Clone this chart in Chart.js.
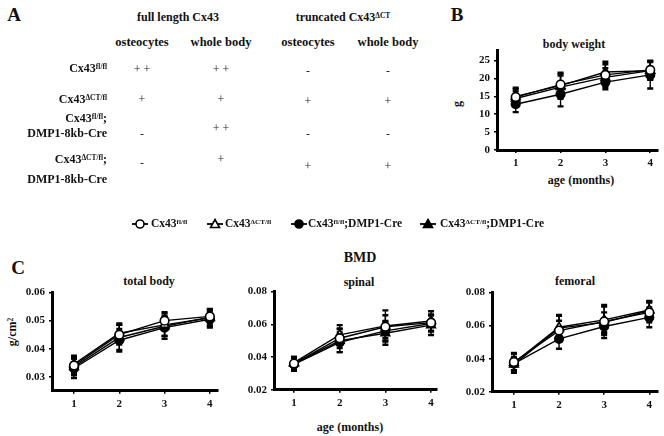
<!DOCTYPE html>
<html>
<head>
<meta charset="utf-8">
<script src="https://cdn.jsdelivr.net/npm/chart.js@4.4.1/dist/chart.umd.min.js"></script>
<style>
  html, body { margin:0; padding:0; background:#fff; }
  #root { position:relative; width:664px; height:436px; overflow:hidden; font-family:"Liberation Serif","Times New Roman",serif; font-weight:bold; color:#111; -webkit-font-smoothing:antialiased; }
  #tableA, #legend { position:absolute; left:0; top:0; width:664px; height:436px; filter:grayscale(100%); }
  .t { position:absolute; white-space:nowrap; transform:translate(-50%,-50%); line-height:1; }
  .r { position:absolute; white-space:nowrap; transform:translateY(-50%); text-align:right; line-height:1.15; }
  .l { position:absolute; white-space:nowrap; transform:translateY(-50%); line-height:1; }
  sup { font-size:0.62em; vertical-align:0.45em; line-height:0; }
  canvas { position:absolute; }
</style>
</head>
<body>
<div id="root">
  <div id="tableA"></div>
  <div id="legend"></div>

  <!-- Panel A headers -->
  <div class="t" style="left:14px;top:14px;font-size:19px;">A</div>
  <div class="t" style="left:178px;top:17px;font-size:12px;">full length Cx43</div>
  <div class="t" style="left:343px;top:17px;font-size:12px;">truncated Cx43<sup>ΔCT</sup></div>
  <div class="t" style="left:142px;top:42px;font-size:12.5px;">osteocytes</div>
  <div class="t" style="left:221px;top:42px;font-size:12.5px;">whole body</div>
  <div class="t" style="left:308px;top:42px;font-size:12.5px;">osteocytes</div>
  <div class="t" style="left:388px;top:42px;font-size:12.5px;">whole body</div>

  <div class="t" style="left:457px;top:14px;font-size:19px;">B</div>
  <div class="t" style="left:574px;top:44px;font-size:12px;">body weight</div>
  <div class="t" style="left:457px;top:104px;font-size:12px;transform:translate(-50%,-50%) rotate(-90deg);">g</div>
  <div class="t" style="left:581px;top:180px;font-size:12px;">age (months)</div>

  <div class="t" style="left:18px;top:267px;font-size:19px;">C</div>
  <div class="t" style="left:360px;top:258px;font-size:14px;">BMD</div>
  <div class="t" style="left:149px;top:281px;font-size:12px;">total body</div>
  <div class="t" style="left:359px;top:282px;font-size:12px;">spinal</div>
  <div class="t" style="left:575px;top:281px;font-size:12px;">femoral</div>
  <div class="t" style="left:12px;top:332px;font-size:12px;transform:translate(-50%,-50%) rotate(-90deg);">g/cm<sup>2</sup></div>
  <div class="t" style="left:350px;top:427px;font-size:12px;">age (months)</div>

  <canvas id="cB" width="209" height="135" style="left:455px;top:40px;"></canvas>
  <canvas id="cT" width="215" height="130" style="left:10px;top:282px;"></canvas>
  <canvas id="cS" width="212" height="131" style="left:232px;top:281px;"></canvas>
  <canvas id="cF" width="214" height="130" style="left:450px;top:282px;"></canvas>
</div>
<script>
// ---------------- DATA ----------------
const months = [1, 2, 3, 4];
const seriesNames = ['Cx43<sup>fl/fl</sup>', 'Cx43<sup>ΔCT/fl</sup>', 'Cx43<sup>fl/fl</sup>;DMP1-Cre', 'Cx43<sup>ΔCT/fl</sup>;DMP1-Cre'];

// Panel A table
const genotypeLabels = ['Cx43<sup>fl/fl</sup>', 'Cx43<sup>ΔCT/fl</sup>', 'Cx43<sup>fl/fl</sup>;<br>DMP1-8kb-Cre', 'Cx43<sup>ΔCT/fl</sup>;<br>DMP1-8kb-Cre'];
const fullOsteocytes = ['+ +', '+', '-', '-'];
const fullWholeBody = ['+ +', '+', '+ +', '+'];
const truncOsteocytes = ['-', '+', '-', '+'];
const truncWholeBody = ['-', '+', '-', '+'];

// Panel B: body weight (g)
const bwTicks = [0, 5, 10, 15, 20, 25];
const bw_flfl = [14.8, 18.3, 21.0, 22.4];
const bw_flfl_err = [2.2, 3.0, 3.0, 2.6];
const bw_dct = [14.4, 17.6, 20.3, 22.2];
const bw_dct_err = [2.0, 3.2, 2.6, 2.4];
const bw_flflCre = [12.8, 15.6, 19.0, 21.0];
const bw_flflCre_err = [2.2, 3.4, 2.0, 3.8];
const bw_dctCre = [15.0, 18.0, 21.8, 22.2];
const bw_dctCre_err = [2.4, 3.6, 2.9, 2.6];

// Panel C: total body BMD
const tbTicks = [0.03, 0.04, 0.05, 0.06];
const tb_flfl = [0.0340, 0.0450, 0.0500, 0.0515];
const tb_flfl_err = [0.0030, 0.0035, 0.0030, 0.0025];
const tb_dct = [0.0345, 0.0455, 0.0485, 0.0510];
const tb_dct_err = [0.0030, 0.0035, 0.0040, 0.0030];
const tb_flflCre = [0.0330, 0.0430, 0.0475, 0.0505];
const tb_flflCre_err = [0.0035, 0.0040, 0.0040, 0.0030];
const tb_dctCre = [0.0335, 0.0440, 0.0480, 0.0512];
const tb_dctCre_err = [0.0030, 0.0045, 0.0035, 0.0030];

// Panel C: spinal BMD
const spTicks = [0.02, 0.04, 0.06, 0.08];
const sp_flfl = [0.0360, 0.0515, 0.0585, 0.0610];
const sp_flfl_err = [0.0040, 0.0060, 0.0070, 0.0050];
const sp_dct = [0.0365, 0.0535, 0.0590, 0.0620];
const sp_dct_err = [0.0030, 0.0060, 0.0095, 0.0060];
const sp_flflCre = [0.0355, 0.0490, 0.0560, 0.0605];
const sp_flflCre_err = [0.0040, 0.0060, 0.0060, 0.0050];
const sp_dctCre = [0.0360, 0.0500, 0.0545, 0.0595];
const sp_dctCre_err = [0.0040, 0.0070, 0.0070, 0.0060];

// Panel C: femoral BMD
const feTicks = [0.02, 0.04, 0.06, 0.08];
const fe_flfl = [0.0380, 0.0570, 0.0625, 0.0680];
const fe_flfl_err = [0.0050, 0.0060, 0.0100, 0.0060];
const fe_dct = [0.0375, 0.0590, 0.0635, 0.0695];
const fe_dct_err = [0.0060, 0.0070, 0.0080, 0.0050];
const fe_flflCre = [0.0370, 0.0520, 0.0595, 0.0650];
const fe_flflCre_err = [0.0040, 0.0060, 0.0050, 0.0060];
const fe_dctCre = [0.0365, 0.0585, 0.0620, 0.0690];
const fe_dctCre_err = [0.0040, 0.0080, 0.0060, 0.0060];

// ---------------- STYLES ----------------
const markerStyles = [
  { pointStyle: 'circle', fill: '#fff' },
  { pointStyle: 'triangle', fill: '#fff' },
  { pointStyle: 'circle', fill: '#000' },
  { pointStyle: 'triangle', fill: '#000' }
];
const FONT = '"Liberation Serif", "Times New Roman", serif';

// ---------------- PANEL A TABLE ----------------
(function () {
  const host = document.getElementById('tableA');
  const labelY = [68, 99, 126, 169];
  const colX = [142, 221, 308, 388];
  const cols = [fullOsteocytes, fullWholeBody, truncOsteocytes, truncWholeBody];
  const valY = [
    [69, 69, 71, 71],
    [99, 99, 101, 101],
    [134, 128, 134, 134],
    [163, 159, 166, 166]
  ];
  genotypeLabels.forEach((lab, i) => {
    const d = document.createElement('div');
    d.className = 'r';
    d.style.right = (664 - 107) + 'px';
    d.style.top = labelY[i] + 'px';
    d.style.fontSize = '12px';
    d.style.lineHeight = i >= 2 ? (i === 3 ? '20px' : '15px') : '1';
    d.innerHTML = lab;
    host.appendChild(d);
  });
  cols.forEach((col, c) => {
    col.forEach((v, i) => {
      const d = document.createElement('div');
      d.className = 't';
      d.style.left = colX[c] + 'px';
      d.style.top = valY[i][c] + 'px';
      d.style.fontSize = '12px';
      d.style.fontWeight = 'normal';
      d.style.color = '#222';
      d.textContent = v;
      host.appendChild(d);
    });
  });
})();

// ---------------- LEGEND ----------------
(function () {
  const host = document.getElementById('legend');
  const mx = [140, 215, 299, 428];
  const tx = [151, 225, 308, 440];
  const y = 224;
  seriesNames.forEach((name, i) => {
    const s = markerStyles[i];
    const svg = document.createElementNS('http://www.w3.org/2000/svg', 'svg');
    svg.setAttribute('width', '16'); svg.setAttribute('height', '12');
    svg.style.position = 'absolute';
    svg.style.left = (mx[i] - 8) + 'px';
    svg.style.top = (y - 6) + 'px';
    let shape;
    if (s.pointStyle === 'circle') {
      shape = '<circle cx="8" cy="6" r="4" fill="' + s.fill + '" stroke="#000" stroke-width="1.6"/>';
    } else {
      shape = '<polygon points="8,1.5 12.5,9.5 3.5,9.5" fill="' + s.fill + '" stroke="#000" stroke-width="1.6"/>';
    }
    svg.innerHTML = '<line x1="0" y1="6" x2="16" y2="6" stroke="#000" stroke-width="1.8"/>' + shape;
    host.appendChild(svg);
    const d = document.createElement('div');
    d.className = 'l';
    d.style.left = tx[i] + 'px';
    d.style.top = y + 'px';
    d.style.fontSize = '11.5px';
    d.innerHTML = name;
    host.appendChild(d);
  });
})();

// ---------------- CHARTS ----------------
const errorBars = {
  id: 'errorBars',
  beforeDatasetsDraw(chart) {
    const ctx = chart.ctx;
    const ys = chart.scales.y;
    ctx.save();
    ctx.strokeStyle = '#000';
    chart.data.datasets.forEach((ds, i) => {
      const meta = chart.getDatasetMeta(i);
      meta.data.forEach((pt, j) => {
        const v = ds.data[j].y, e = ds.errors[j];
        const y1 = ys.getPixelForValue(v + e), y2 = ys.getPixelForValue(v - e);
        ctx.lineWidth = 1.4;
        ctx.beginPath(); ctx.moveTo(pt.x, y1); ctx.lineTo(pt.x, y2); ctx.stroke();
        ctx.lineWidth = 2.4;
        ctx.beginPath();
        ctx.moveTo(pt.x - 3, y1); ctx.lineTo(pt.x + 3, y1);
        ctx.moveTo(pt.x - 3, y2); ctx.lineTo(pt.x + 3, y2);
        ctx.stroke();
      });
    });
    ctx.restore();
  }
};

function makeChart(id, series, errs, cfg) {
  const datasets = series.map((vals, i) => ({
    data: months.map((m, j) => ({ x: m, y: vals[j] })),
    errors: errs[i],
    borderColor: '#000',
    borderWidth: 1.4,
    backgroundColor: markerStyles[i].fill,
    pointBackgroundColor: markerStyles[i].fill,
    pointBorderColor: '#000',
    pointBorderWidth: 1.6,
    pointStyle: markerStyles[i].pointStyle,
    pointRadius: markerStyles[i].pointStyle === 'triangle' ? 5 : 4.3,
    tension: 0,
    clip: false
  }));
  const tickFont = { family: FONT, weight: 'bold', size: cfg.fontSize || 11 };
  return new Chart(document.getElementById(id), {
    type: 'line',
    data: { datasets },
    plugins: [errorBars],
    options: {
      responsive: false,
      animation: false,
      devicePixelRatio: 1,
      layout: { padding: { top: cfg.padTop, right: cfg.padRight, left: 0, bottom: 0 } },
      plugins: { legend: { display: false }, tooltip: { enabled: false }, title: { display: false } },
      scales: {
        x: {
          type: 'linear', min: cfg.xMin, max: cfg.xMax,
          afterBuildTicks: s => { s.ticks = months.map(v => ({ value: v })); },
          afterFit: s => { s.height = cfg.xH; },
          grid: { display: true, drawOnChartArea: false, drawTicks: true, tickLength: 3, color: '#000', lineWidth: 1.5 },
          border: { display: true, color: '#000', width: 3 },
          ticks: { color: '#111', font: tickFont, padding: 4, maxRotation: 0, callback: v => String(v) }
        },
        y: {
          type: 'linear', min: cfg.yMin, max: cfg.yMax,
          afterBuildTicks: s => { s.ticks = cfg.yTicks.map(v => ({ value: v })); },
          afterFit: s => { s.width = cfg.yW; },
          grid: { display: true, drawOnChartArea: false, drawTicks: true, tickLength: 3, color: '#000', lineWidth: 1.5 },
          border: { display: true, color: '#000', width: 3 },
          ticks: { color: '#111', font: tickFont, padding: 4, callback: cfg.fmt }
        }
      }
    }
  });
}

makeChart('cB',
  [bw_flfl, bw_dct, bw_flflCre, bw_dctCre],
  [bw_flfl_err, bw_dct_err, bw_flflCre_err, bw_dctCre_err],
  { padTop: 10, padRight: 4, xH: 25, yW: 42, xMin: 0.583, xMax: 4.16, yMin: 0, yMax: 27.8, yTicks: bwTicks, fmt: v => String(v), fontSize: 11 });

makeChart('cT',
  [tb_flfl, tb_dct, tb_flflCre, tb_dctCre],
  [tb_flfl_err, tb_dct_err, tb_flflCre_err, tb_dctCre_err],
  { padTop: 10, padRight: 7, xH: 21.3, yW: 42, xMin: 0.514, xMax: 4.18, yMin: 0.025, yMax: 0.06, yTicks: tbTicks, fmt: v => v.toFixed(2), fontSize: 11 });

makeChart('cS',
  [sp_flfl, sp_dct, sp_flflCre, sp_dctCre],
  [sp_flfl_err, sp_dct_err, sp_flflCre_err, sp_dctCre_err],
  { padTop: 10, padRight: 7, xH: 22.3, yW: 42, xMin: 0.562, xMax: 4.13, yMin: 0.02, yMax: 0.08, yTicks: spTicks, fmt: v => v.toFixed(2), fontSize: 11 });

makeChart('cF',
  [fe_flfl, fe_dct, fe_flflCre, fe_dctCre],
  [fe_flfl_err, fe_dct_err, fe_flflCre_err, fe_dctCre_err],
  { padTop: 10, padRight: 6, xH: 20.3, yW: 42, xMin: 0.514, xMax: 4.18, yMin: 0.02, yMax: 0.08, yTicks: feTicks, fmt: v => v.toFixed(2), fontSize: 11 });
</script>
</body>
</html>
